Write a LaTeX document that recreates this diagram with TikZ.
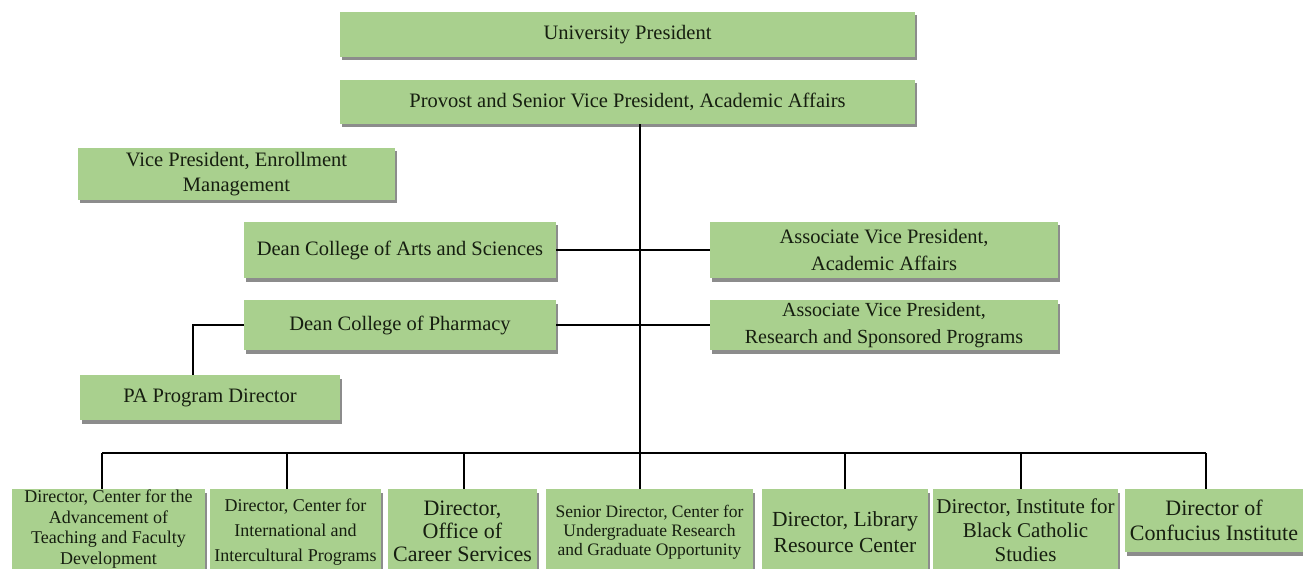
\documentclass[tikz,border=0pt]{standalone}
\usepackage{fontspec}
\setmainfont{Liberation Serif}
\usetikzlibrary{shadows}
\definecolor{boxgreen}{RGB}{169,208,142}
\definecolor{txt}{RGB}{22,30,16}
\tikzset{
  orgbox/.style={fill=boxgreen, draw=none, inner sep=0pt, align=center, text=txt,
    drop shadow={shadow xshift=1.5pt, shadow yshift=-3.5pt, fill=black, opacity=0.45}},
  midfont/.style={font=\fontsize{20.5}{25}\selectfont},
  conn/.style={draw=black, line width=1.2pt}
}
\begin{document}
\begin{tikzpicture}[x=1pt,y=-1pt]
\useasboundingbox (0,0) rectangle (1303,569);
% top boxes
\node[orgbox, midfont, minimum width=575pt, minimum height=45pt] (up) at (627.5,34.5) {University President};
\node[orgbox, midfont, minimum width=575pt, minimum height=44pt] (prov) at (627.5,102) {Provost and Senior Vice President, Academic Affairs};
% middle boxes
\node[orgbox, midfont, minimum width=317pt, minimum height=52pt] (vpem) at (236.5,174) {Vice President, Enrollment\\Management};
\node[orgbox, midfont, minimum width=312pt, minimum height=56pt] (arts) at (400,250) {Dean College of Arts and Sciences};
\node[orgbox, font=\fontsize{20.5}{27}\selectfont, minimum width=348pt, minimum height=56pt] (avpaa) at (884,250) {Associate Vice President,\\Academic Affairs};
\node[orgbox, midfont, minimum width=312pt, minimum height=50pt] (pharm) at (400,325) {Dean College of Pharmacy};
\node[orgbox, font=\fontsize{20}{27}\selectfont, minimum width=348pt, minimum height=50pt] (avprs) at (884,325) {Associate Vice President,\\Research and Sponsored Programs};
\node[orgbox, midfont, minimum width=260pt, minimum height=45pt] (pa) at (210,397.5) {PA Program Director};
% bottom boxes
\node[orgbox, font=\fontsize{18}{20.5}\selectfont, minimum width=193pt, minimum height=80pt] (b1) at (108.5,529) {Director, Center for  the\\Advancement of\\Teaching and Faculty\\Development};
\node[orgbox, font=\fontsize{18}{25}\selectfont, minimum width=171pt, minimum height=86pt] (b2) at (295.5,532) {Director, Center for\\International and\\Intercultural Programs};
\node[orgbox, font=\fontsize{22}{23}\selectfont, minimum width=149pt, minimum height=84pt] (b3) at (462.5,531) {Director,\\Office of\\Career Services};
\node[orgbox, font=\fontsize{17.5}{19}\selectfont, minimum width=207pt, minimum height=86pt] (b4) at (649.5,532) {Senior Director, Center for\\Undergraduate Research\\and Graduate Opportunity};
\node[orgbox, font=\fontsize{21.5}{26}\selectfont, minimum width=166pt, minimum height=86pt] (b5) at (845,532) {Director, Library\\Resource Center};
\node[orgbox, font=\fontsize{21}{24}\selectfont, minimum width=185pt, minimum height=82pt] (b6) at (1025.5,530) {Director, Institute for\\Black Catholic\\Studies};
\node[orgbox, font=\fontsize{22}{25}\selectfont, minimum width=178pt, minimum height=63pt] (b7) at (1214,520.5) {Director of\\Confucius Institute};
% connector coordinates
\coordinate (tk) at (640,453);
\coordinate (pk) at (193,325);
\coordinate (d1) at (102,453);
\coordinate (d2) at (287,453);
\coordinate (d3) at (464,453);
\coordinate (d5) at (845,453);
\coordinate (d6) at (1021,453);
\coordinate (d7) at (1206,453);
% connectors
\draw[conn] (prov.south -| tk) -- (tk);
\draw[conn] (arts.east) -- (avpaa.west);
\draw[conn] (pharm.east) -- (avprs.west);
\draw[conn] (pharm.west) -- (pk) -- (pk |- pa.north);
\draw[conn] (d1) -- (d7);
\draw[conn] (d1) -- (d1 |- b1.north);
\draw[conn] (d2) -- (d2 |- b2.north);
\draw[conn] (d3) -- (d3 |- b3.north);
\draw[conn] (tk) -- (tk |- b4.north);
\draw[conn] (d5) -- (d5 |- b5.north);
\draw[conn] (d6) -- (d6 |- b6.north);
\draw[conn] (d7) -- (d7 |- b7.north);
\end{tikzpicture}
\end{document}
